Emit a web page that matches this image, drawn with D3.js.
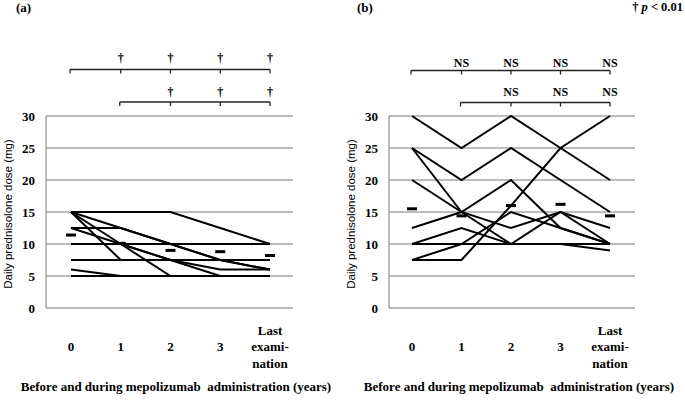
<!DOCTYPE html>
<html><head><meta charset="utf-8">
<script src="https://cdn.jsdelivr.net/npm/d3@7"></script>
<style>
body{margin:0;background:#fff;}
svg text{font-family:"Liberation Serif","Times New Roman",serif;font-weight:bold;fill:#000;}
</style></head>
<body><svg id="c" width="685" height="401"></svg>
<script>
// ---- data ----
const categories = ["0","1","2","3","Last"];
const xLabelLines = [["0"],["1"],["2"],["3"],["Last","exami-","nation"]];
const yTicks = [0,5,10,15,20,25,30];
const yTitle = "Daily prednisolone dose (mg)";
const xTitle = "Before and during mepolizumab  administration (years)";

// panel (a) individual patients
const a1 = [15,15,15,12.5,10];
const a2 = [15,12.5,10,7.5,6];
const a3 = [15,7.5,7.5,7.5,7.5];
const a4 = [12.5,12.5,10,7.5,6];
const a5 = [12.5,10,7.5,6,6];
const a6 = [10,10,10,10,10];
const a7 = [7.5,7.5,7.5,7.5,7.5];
const a8 = [6,5,5,5,5];
const a9 = [5,5,5,5,5];
const a10 = [15,10,5,5,5];
const a11 = [10,10,7.5,5,5];
const aMeans = [11.4,10.1,9.0,8.8,8.2];
const aSig1 = ["†","†","†","†"];
const aSig2 = ["†","†","†"];

// panel (b) individual patients
const b1 = [30,25,30,25,20];
const b2 = [25,20,25,20,15];
const b3 = [25,15,12.5,15,12.5];
const b4 = [20,15,10,15,10];
const b5 = [12.5,15,20,12.5,10];
const b6 = [10,12.5,10,10,9];
const b7 = [7.5,7.5,16,25,30];
const b8 = [7.5,10,15,12.5,10];
const b9 = [10,10,10,10,10];
const bMeans = [15.5,14.4,16.0,16.2,14.4];
const bSig1 = ["NS","NS","NS","NS"];
const bSig2 = ["NS","NS","NS"];

const svg = d3.select("#c");

function panel(cfg){
  const g = svg.append("g");
  const x = d3.scalePoint().domain(categories).range([cfg.x0, cfg.x1]);
  const y = d3.scaleLinear().domain([0,30]).range([308,116]);
  // gridlines
  g.append("g").selectAll("line").data(yTicks).join("line")
    .attr("x1",cfg.left).attr("x2",cfg.right)
    .attr("y1",d=>y(d)).attr("y2",d=>y(d))
    .attr("stroke","#7a7a7a").attr("stroke-width",1);
  // left axis
  g.append("line").attr("x1",cfg.left).attr("x2",cfg.left)
    .attr("y1",y(30)).attr("y2",y(0)).attr("stroke","#7a7a7a").attr("stroke-width",1);
  // y tick labels
  g.append("g").selectAll("text").data(yTicks).join("text")
    .attr("x",cfg.left-11).attr("y",d=>y(d)+4.5)
    .attr("text-anchor","end").attr("font-size",13).text(d=>d);
  // y title
  g.append("text").attr("transform",`translate(${cfg.left-34},${y(15)+2}) rotate(-90)`)
    .attr("text-anchor","middle").attr("font-size",11.5)
    .style("font-family","'Liberation Sans',Arial,sans-serif").style("font-weight","normal")
    .text(yTitle);
  // data lines
  const line = d3.line().x((d,i)=>x(categories[i])).y(d=>y(d));
  g.append("g").selectAll("path").data(cfg.series).join("path")
    .attr("d",line).attr("fill","none").attr("stroke","#000")
    .attr("stroke-width",2).attr("stroke-linejoin","miter");
  // means
  g.append("g").selectAll("rect").data(cfg.means).join("rect")
    .attr("x",(d,i)=>x(categories[i])-5).attr("y",d=>y(d)-1.5)
    .attr("width",10).attr("height",3).attr("fill","#000");
  // x labels
  const xl = g.append("g").selectAll("text").data(xLabelLines).join("text")
    .attr("text-anchor","middle").attr("font-size",13);
  xl.each(function(lines,i){
    const t = d3.select(this);
    const start = 351 - (lines.length>1 ? 16.5 : 0);
    lines.forEach((s,k)=>{
      t.append("tspan").attr("x",x(categories[i])).attr("y",start+k*16.5).text(s);
    });
  });
  // x title
  g.append("text").attr("x",cfg.titleX).attr("y",391).attr("text-anchor","middle")
    .attr("font-size",13).style("white-space","pre").text(xTitle);
  // brackets
  function bracket(fromIdx, yy, labels, labY){
    const cats = categories.slice(fromIdx);
    g.append("line").attr("x1",x(cats[0])-1).attr("x2",x(cats[cats.length-1]))
      .attr("y1",yy).attr("y2",yy).attr("stroke","#222").attr("stroke-width",1.3);
    g.append("g").selectAll("line").data(cats).join("line")
      .attr("x1",(d,i)=>x(d)-(i===0?1:0)).attr("x2",(d,i)=>x(d)-(i===0?1:0))
      .attr("y1",yy).attr("y2",yy+4).attr("stroke","#222").attr("stroke-width",1.3);
    g.append("g").selectAll("text").data(labels).join("text")
      .attr("x",(d,i)=>x(cats[i+1])).attr("y",labY)
      .attr("text-anchor","middle").attr("font-size",12)
      .style("fill","#000").text(d=>d);
  }
  bracket(0, cfg.br1, cfg.sig1, cfg.lab1);
  bracket(1, cfg.br2, cfg.sig2, cfg.lab2);
  // panel label
  g.append("text").attr("x",cfg.labX).attr("y",12).attr("font-size",13).text(cfg.label);
}

panel({x0:71,x1:270,left:46,right:293,titleX:176,
  series:[a1,a2,a3,a4,a5,a6,a7,a8,a9,a10,a11],means:aMeans,
  sig1:aSig1,sig2:aSig2,br1:69.5,br2:102,lab1:62,lab2:96,label:"(a)",labX:16});
panel({x0:412,x1:610,left:389,right:635,titleX:519,
  series:[b1,b2,b3,b4,b5,b6,b7,b8,b9],means:bMeans,
  sig1:bSig1,sig2:bSig2,br1:70.5,br2:102.5,lab1:67,lab2:96,label:"(b)",labX:357});

// significance legend
const lg = svg.append("text").attr("x",683).attr("y",11).attr("text-anchor","end").attr("font-size",12.5);
lg.append("tspan").text("† ");
lg.append("tspan").style("font-style","italic").text("p");
lg.append("tspan").text(" < 0.01");
</script></body></html>
